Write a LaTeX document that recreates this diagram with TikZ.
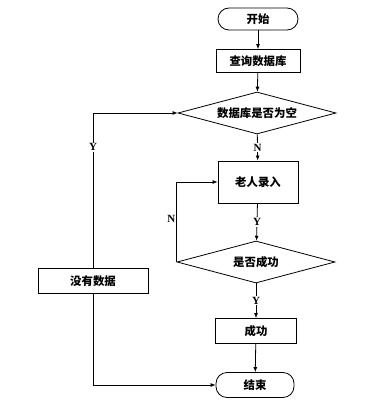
\documentclass[tikz,border=0pt]{standalone}
\usepackage{fontspec}
\setmainfont{Liberation Serif}
\newfontfamily\cjk{Noto Sans CJK SC}
\usetikzlibrary{arrows.meta,shapes.geometric}

\tikzset{
  box/.style={draw, line width=0.8pt, inner sep=0pt, font=\cjk\bfseries\fontsize{11.4}{13}\selectfont},
  term/.style={box, rounded corners=11pt},
  test/.style={box, diamond, shape aspect=3.76, minimum width=158pt, minimum height=42pt},
  flow/.style={line width=0.8pt, -{Latex[length=5pt,width=4pt]}},
  yn/.style={font=\bfseries\fontsize{11}{12}\selectfont, fill=white, inner sep=1pt}
}

\begin{document}
\begin{tikzpicture}[x=1pt,y=-1pt]
    \useasboundingbox (0,0) rectangle (388,409);

    % Вузли
    \node[term, minimum width=80pt, minimum height=22pt] (start) at (258,19) {开始};
    \node[box, minimum width=84pt, minimum height=23pt] (query) at (258,61) {查询数据库};
    \node[test] (empty) at (257,113) {数据库是否为空};
    \node[box, minimum width=80pt, minimum height=42pt] (input) at (258,182) {老人录入};
    \node[test] (okq) at (256,262) {是否成功};
    \node[box, minimum width=81pt, minimum height=25pt] (ok) at (256,331) {成功};
    \node[term, minimum width=78pt, minimum height=25pt] (finish) at (255,385) {结束};
    \node[box, minimum width=110pt, minimum height=25pt] (nodata) at (93,281) {没有数据};

    % Основний потік
    \draw[flow] (start) -- (query);
    \draw[flow] (query) -- (empty);
    \draw[flow] (empty) -- node[yn] {N} (input);
    \draw[flow] (input) -- node[yn] {Y} (okq);
    \draw[flow] (okq) -- node[yn] {Y} (ok);
    \draw[flow] (ok) -- (finish);

    % Гілка Y ліворуч
    \draw[flow] (nodata.north) |- node[yn, pos=0.39] {Y} (empty.west);
    \draw[flow] (nodata.south) |- (finish.west);

    % Повтор при N
    \draw[flow] (okq.west) |- node[yn, fill=none, pos=0.27, left] {N} (input.west);
\end{tikzpicture}
\end{document}
